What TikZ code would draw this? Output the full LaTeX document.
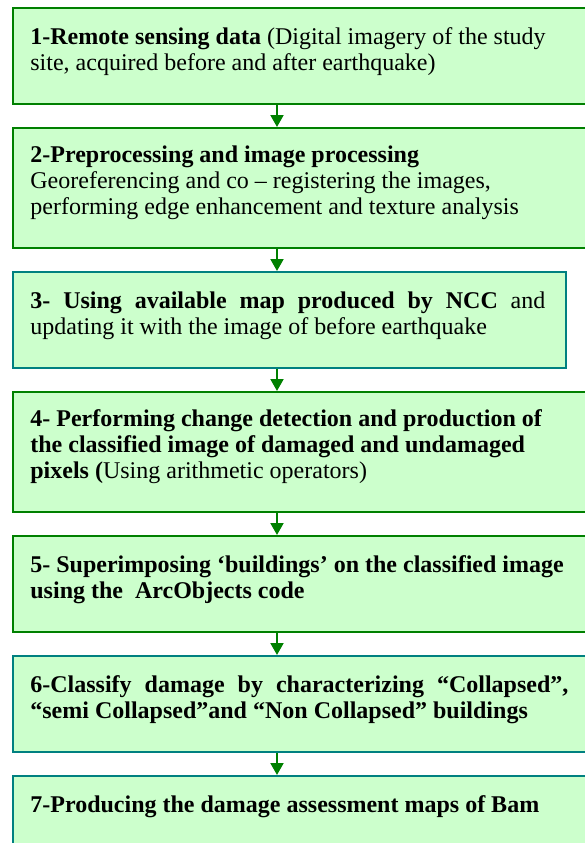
\documentclass[tikz,border=0pt]{standalone}
\usepackage{fontspec}
\setmainfont{Liberation Serif}
\usetikzlibrary{arrows.meta}

\definecolor{boxfill}{HTML}{CCFFCC}
\definecolor{boxgreen}{HTML}{008000}
\definecolor{boxteal}{HTML}{008080}

\tikzset{
  stepbox/.style={draw=boxgreen, fill=boxfill, line width=1pt, anchor=north west,
    inner sep=0pt, minimum width=300pt},
  tealbox/.style={stepbox, draw=boxteal},
  steptext/.style={anchor=north west, align=left, inner sep=0pt,
    font=\fontsize{12}{13}\selectfont},
  flow/.style={boxgreen, line width=1pt, -{Triangle[width=6.5pt,length=6pt]}}
}

\begin{document}
\begin{tikzpicture}[x=0.5pt, y=-0.5pt]

\clip (0,0) rectangle (585,843);
\coordinate (axis) at (277,0);

% boxes
\node[stepbox, minimum height=48pt] (s1) at (12,7) {};
\node[stepbox, minimum height=60pt] (s2) at (12,127) {};
\node[tealbox, minimum height=48pt, minimum width=276.5pt] (s3) at (12,271) {};
\node[stepbox, minimum height=60pt] (s4) at (12,391) {};
\node[stepbox, minimum height=48pt] (s5) at (12,535) {};
\node[tealbox, minimum height=48pt] (s6) at (12,655) {};
\node[tealbox, minimum height=48pt] (s7) at (12,775) {};

% texts
\node[steptext] (t1) at ([xshift=9pt, yshift=-10pt]s1.north west)
  {\textbf{1-Remote sensing data} (Digital imagery of the study\\
   site, acquired before and after earthquake)};
\node[steptext] (t2) at ([xshift=9pt, yshift=-9pt]s2.north west)
  {\textbf{2-Preprocessing and image processing}\\
   Georeferencing and co -- registering the images,\\
   performing edge enhancement and texture analysis};
\node[steptext] (t3) at ([xshift=9pt, yshift=-10pt]s3.north west)
  {\makebox[257.5pt][s]{\textbf{3- Using available map produced by NCC} and}\\
   updating it with the image of before earthquake};
\node[steptext] (t4) at ([xshift=9pt, yshift=-9pt]s4.north west)
  {\textbf{4- Performing change detection and production of}\\
   \textbf{the classified image of damaged and undamaged}\\
   \textbf{pixels (}Using arithmetic operators)};
\node[steptext] (t5) at ([xshift=9pt, yshift=-10pt]s5.north west)
  {\textbf{5- Superimposing ‘buildings’ on the classified image}\\
   \textbf{using the \ ArcObjects code}};
\node[steptext] (t6) at ([xshift=9pt, yshift=-10pt]s6.north west)
  {\makebox[269pt][s]{\textbf{6-Classify damage by characterizing “Collapsed”,}}\\
   \textbf{“semi Collapsed”and “Non Collapsed” buildings}};
\node[steptext] (t7) at ([xshift=9pt, yshift=-10pt]s7.north west)
  {\textbf{7-Producing the damage assessment maps of Bam}};

% arrows
\foreach \a/\b in {s1/s2, s2/s3, s3/s4, s4/s5, s5/s6, s6/s7}
  \draw[flow] (\a.south -| axis) -- (\b.north -| axis);

\end{tikzpicture}
\end{document}
